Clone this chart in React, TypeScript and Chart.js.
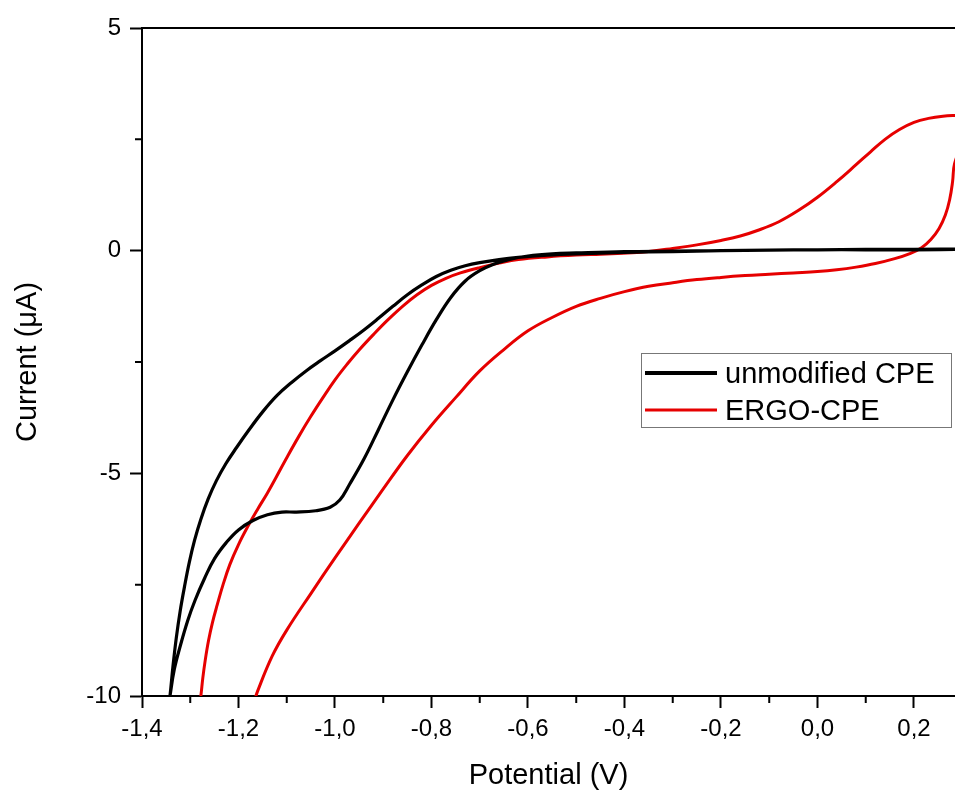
import React, { useEffect, useRef } from 'react';
import { Chart, registerables } from 'chart.js';

Chart.register(...registerables);

const FONT = "'Liberation Sans', Arial, Helvetica, sans-serif";

const seriesLabels = ['unmodified CPE', 'ERGO-CPE'];
const seriesColors = ['#000000', '#e60000'];

const xTickValues = [-1.4, -1.2, -1.0, -0.8, -0.6, -0.4, -0.2, 0.0, 0.2];
const xMinorTicks = [-1.3, -1.1, -0.9, -0.7, -0.5, -0.3, -0.1, 0.1];
const yTickValues = [5, 0, -5, -10];
const yMinorTicks = [2.5, -2.5, -7.5];

// unmodified CPE: cathodic sweep (with shoulder) then return sweep
const unmodifiedPotential = [
  0.31, 0.2, 0.1, 0.0, -0.1, -0.2, -0.3, -0.4, -0.5, -0.55, -0.6, -0.64, -0.67, -0.7, -0.73, -0.76,
  -0.79, -0.82, -0.85, -0.88, -0.91, -0.94, -0.97, -0.99, -1.01, -1.04, -1.08, -1.11, -1.14, -1.17,
  -1.2, -1.225, -1.25, -1.27, -1.29, -1.305, -1.32, -1.333, -1.342, -1.346,
  -1.342, -1.336, -1.329, -1.321, -1.312, -1.302, -1.291, -1.278, -1.263, -1.246, -1.226, -1.204,
  -1.18, -1.15, -1.12, -1.09, -1.06, -1.03, -1.0, -0.97, -0.94, -0.91, -0.88, -0.85, -0.82, -0.79,
  -0.76, -0.73, -0.7, -0.66, -0.62, -0.56, -0.5, -0.4, -0.3, -0.2, -0.1, 0.0, 0.1, 0.2, 0.31,
];
const unmodifiedCurrent = [
  0.03, 0.02, 0.02, 0.02, 0.01, 0.0, -0.01, -0.02, -0.05, -0.07, -0.12, -0.2, -0.3, -0.45, -0.68, -1.05,
  -1.55, -2.12, -2.72, -3.35, -4.02, -4.68, -5.25, -5.6, -5.76, -5.84, -5.87, -5.87, -5.93, -6.06,
  -6.27, -6.55, -6.92, -7.35, -7.85, -8.3, -8.85, -9.4, -10.0, -10.3,
  -10.0, -9.35, -8.7, -8.1, -7.55, -7.0, -6.5, -6.03, -5.58, -5.17, -4.78, -4.42,
  -4.05, -3.62, -3.25, -2.96, -2.7, -2.47, -2.25, -2.02, -1.78, -1.52, -1.25, -0.99, -0.77, -0.58,
  -0.44, -0.34, -0.27, -0.2, -0.15, -0.1, -0.07, -0.04, -0.02, 0.0, 0.01, 0.02, 0.03, 0.03, 0.04,
];

// ERGO-CPE loop
const ergoPotential = [
  -0.403, -0.35, -0.3, -0.25, -0.2, -0.16, -0.12, -0.08, -0.04, 0.0, 0.04, 0.08, 0.11, 0.14, 0.17,
  0.2, 0.23, 0.26, 0.29, 0.31, 0.315, 0.3, 0.284, 0.28, 0.274, 0.265, 0.252, 0.235, 0.215, 0.19,
  0.16, 0.12, 0.08, 0.04, 0.0, -0.05, -0.1, -0.15, -0.2, -0.25, -0.3, -0.35, -0.4, -0.45, -0.5,
  -0.55, -0.6, -0.65, -0.7, -0.75, -0.8, -0.85, -0.9, -0.95, -1.0, -1.05, -1.1, -1.13, -1.16, -1.17,
  -1.22, -1.282,
  -1.278, -1.274, -1.269, -1.262, -1.254, -1.244, -1.232, -1.218, -1.2, -1.18, -1.16, -1.14, -1.12,
  -1.1, -1.075, -1.05, -1.025, -1.0, -0.975, -0.95, -0.92, -0.89, -0.86, -0.83, -0.8, -0.77, -0.74,
  -0.7, -0.66, -0.62, -0.56, -0.5, -0.45, -0.403,
];
const ergoCurrent = [
  -0.06, -0.02, 0.05, 0.13, 0.23, 0.33, 0.47, 0.65, 0.9, 1.2, 1.55, 1.93, 2.22, 2.5, 2.72,
  2.88, 2.97, 3.02, 3.04, 3.05, 2.8, 2.4, 1.95, 1.55, 1.15, 0.8, 0.5, 0.25, 0.06, -0.07,
  -0.18, -0.29, -0.37, -0.43, -0.47, -0.5, -0.53, -0.56, -0.6, -0.65, -0.72, -0.8, -0.92, -1.07, -1.25,
  -1.5, -1.8, -2.22, -2.7, -3.3, -3.92, -4.6, -5.35, -6.12, -6.9, -7.7, -8.52, -9.1, -9.88, -10.2,
  -11.5, -10.3,
  -10.0, -9.6, -9.2, -8.75, -8.35, -7.95, -7.5, -7.05, -6.6, -6.18, -5.8, -5.44, -5.05,
  -4.65, -4.17, -3.72, -3.3, -2.9, -2.55, -2.23, -1.88, -1.55, -1.25, -0.99, -0.78, -0.62, -0.5,
  -0.38, -0.28, -0.2, -0.14, -0.1, -0.08, -0.06,
];

const toPoints = (xs: number[], ys: number[]) => xs.map((x, i) => ({ x, y: ys[i] }));

const fmtX = (v: number) => {
  const n = Math.abs(v) < 1e-9 ? 0 : v;
  return n.toFixed(1).replace('.', ',');
};

const decorPlugin = {
  id: 'decor',
  afterDraw(chart: any) {
    const { ctx, chartArea: ca, scales } = chart;
    const x = scales.x;
    const y = scales.y;
    ctx.save();
    ctx.strokeStyle = '#000';
    ctx.lineWidth = 2;
    ctx.beginPath();
    ctx.moveTo(ca.left - 1, ca.top);
    ctx.lineTo(ca.right, ca.top);
    for (const v of xMinorTicks) {
      const px = x.getPixelForValue(v);
      ctx.moveTo(px, ca.bottom);
      ctx.lineTo(px, ca.bottom + 7);
    }
    for (const v of yMinorTicks) {
      const py = y.getPixelForValue(v);
      ctx.moveTo(ca.left, py);
      ctx.lineTo(ca.left - 7, py);
    }
    ctx.stroke();

    // legend box
    const boxLeft = 641.5;
    const boxTop = 353.5;
    const boxW = 310;
    const boxH = 74;
    ctx.lineWidth = 1;
    ctx.strokeStyle = '#777';
    ctx.fillStyle = '#fff';
    ctx.fillRect(boxLeft, boxTop, boxW, boxH);
    ctx.strokeRect(boxLeft, boxTop, boxW, boxH);
    ctx.font = `29px ${FONT}`;
    ctx.textBaseline = 'alphabetic';
    ctx.textAlign = 'left';
    chart.data.datasets.forEach((ds: any, i: number) => {
      const base = 383 + i * 37;
      ctx.strokeStyle = ds.borderColor;
      ctx.lineWidth = i === 0 ? 4 : 3;
      ctx.beginPath();
      ctx.moveTo(645, base - 10);
      ctx.lineTo(717, base - 10);
      ctx.stroke();
      ctx.fillStyle = '#000';
      ctx.fillText(ds.label, 725, base);
    });
    ctx.restore();
  },
};

export default function App() {
  const ref = useRef<HTMLCanvasElement | null>(null);

  useEffect(() => {
    document.body.style.margin = '0';
    if (!ref.current) return;
    const chart = new Chart(ref.current, {
      type: 'scatter',
      data: {
        datasets: [
          {
            label: seriesLabels[0],
            data: toPoints(unmodifiedPotential, unmodifiedCurrent),
            borderColor: seriesColors[0],
            backgroundColor: seriesColors[0],
            borderWidth: 3.2,
            showLine: true,
            pointRadius: 0,
            tension: 0.4,
            clip: 0,
          },
          {
            label: seriesLabels[1],
            data: toPoints(ergoPotential, ergoCurrent),
            borderColor: seriesColors[1],
            backgroundColor: seriesColors[1],
            borderWidth: 3,
            showLine: true,
            pointRadius: 0,
            tension: 0.4,
            clip: 0,
          },
        ],
      },
      options: {
        animation: false,
        responsive: false,
        layout: { padding: { top: 28, left: 0, right: 0, bottom: 0 } },
        plugins: { legend: { display: false }, tooltip: { enabled: false } },
        scales: {
          x: {
            type: 'linear',
            min: -1.4,
            max: 0.285,
            border: { display: true, color: '#000', width: 2 },
            grid: { drawOnChartArea: false, drawTicks: true, tickLength: 12, tickWidth: 2, tickColor: '#000' },
            afterBuildTicks: (s: any) => {
              s.ticks = xTickValues.map((v) => ({ value: v }));
            },
            ticks: {
              autoSkip: false,
              maxRotation: 0,
              color: '#000',
              padding: 7,
              font: { family: FONT, size: 24 },
              callback: (v: any) => fmtX(Number(v)),
            },
            title: {
              display: true,
              text: 'Potential (V)',
              color: '#000',
              font: { family: FONT, size: 29, lineHeight: 1 },
              padding: 0,
            },
            afterFit: (s: any) => {
              s.height = 94;
            },
          },
          y: {
            type: 'linear',
            min: -10,
            max: 5,
            border: { display: true, color: '#000', width: 2 },
            grid: { drawOnChartArea: false, drawTicks: true, tickLength: 12, tickWidth: 2, tickColor: '#000' },
            afterBuildTicks: (s: any) => {
              s.ticks = yTickValues.map((v) => ({ value: v }));
            },
            ticks: {
              color: '#000',
              padding: 9,
              font: { family: FONT, size: 24 },
              callback: (v: any) => String(Number(v)),
            },
            title: {
              display: true,
              text: 'Current (μA)',
              color: '#000',
              font: { family: FONT, size: 29, lineHeight: 1 },
              padding: { top: 13, bottom: 0 },
            },
            afterFit: (s: any) => {
              s.width = 142;
            },
          },
        },
      },
      plugins: [decorPlugin],
    });
    return () => chart.destroy();
  }, []);

  return (
    <div style={{ width: 955, height: 790 }}>
      <canvas ref={ref} width={955} height={790} />
    </div>
  );
}
